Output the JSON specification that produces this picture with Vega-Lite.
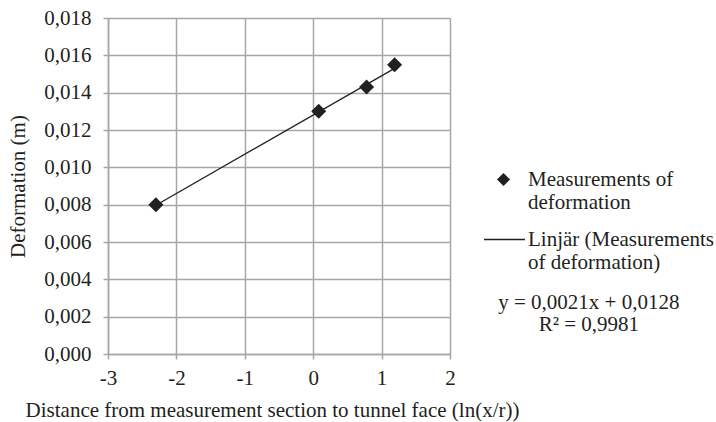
{
  "$schema": "https://vega.github.io/schema/vega-lite/v6.json",
  "width": 342,
  "height": 336,
  "autosize": {"type": "none"},
  "padding": {"left": 108, "top": 18, "right": 266, "bottom": 68},
  "background": "white",
  "config": {
    "view": {"stroke": null},
    "font": "Liberation Serif",
    "axis": {
      "labelFont": "Liberation Serif",
      "titleFont": "Liberation Serif",
      "labelFontSize": 21,
      "titleFontSize": 21,
      "labelColor": "#231f20",
      "titleColor": "#231f20",
      "titleFontWeight": "normal",
      "gridColor": "#a6a6a6",
      "gridWidth": 1.5,
      "domainColor": "#a6a6a6",
      "domainWidth": 1.5,
      "tickColor": "#a6a6a6",
      "tickWidth": 1.5,
      "tickSize": 5,
      "labelOverlap": false
    },
    "legend": {
      "labelFont": "Liberation Serif",
      "labelFontSize": 21,
      "labelColor": "#231f20",
      "labelLimit": 400
    }
  },
  "datasets": {
    "points": [
      {"x": -2.3, "y": 0.0080, "series": "Measurements of deformation"},
      {"x": 0.08, "y": 0.0130, "series": "Measurements of deformation"},
      {"x": 0.78, "y": 0.0143, "series": "Measurements of deformation"},
      {"x": 1.19, "y": 0.0155, "series": "Measurements of deformation"}
    ],
    "trend": [
      {"x": -2.3, "y": 0.00797, "series": "Linjär (Measurements of deformation)"},
      {"x": 1.19, "y": 0.01530, "series": "Linjär (Measurements of deformation)"}
    ],
    "equation": [
      {"text": "y = 0,0021x + 0,0128"}
    ]
  },
  "layer": [
    {
      "data": {"name": "trend"},
      "mark": {"type": "line", "strokeWidth": 1.3},
      "encoding": {
        "x": {
          "field": "x",
          "type": "quantitative",
          "scale": {"domain": [-3, 2], "nice": false, "zero": false},
          "axis": {
            "values": [-3, -2, -1, 0, 1, 2],
            "labelExpr": "'' + datum.value",
            "labelPadding": 8,
            "title": "Distance from measurement section to tunnel face (ln(x/r))",
            "titleX": 164,
            "titlePadding": 11,
            "labelFlush": false,
            "labelOverlap": false
          }
        },
        "y": {
          "field": "y",
          "type": "quantitative",
          "scale": {"domain": [0, 0.018], "nice": false, "zero": false},
          "axis": {
            "values": [0, 0.002, 0.004, 0.006, 0.008, 0.01, 0.012, 0.014, 0.016, 0.018],
            "labelExpr": "replace(format(datum.value, '.3f'), '.', ',')",
            "labelPadding": 12,
            "title": "Deformation (m)",
            "titlePadding": 15,
            "labelFlush": false,
            "labelOverlap": false
          }
        },
        "color": {
          "field": "series",
          "type": "nominal",
          "scale": {"range": ["#231f20"]},
          "legend": {
            "title": null,
            "orient": "none",
            "legendX": 375,
            "legendY": 200,
            "symbolType": "stroke",
            "symbolSize": 1681,
            "symbolStrokeWidth": 1.3,
            "labelOffset": 2,
            "labelExpr": "['Linjär (Measurements', 'of deformation)']"
          }
        }
      }
    },
    {
      "data": {"name": "points"},
      "mark": {"type": "point", "filled": true, "color": "#231f20", "opacity": 1, "size": 225},
      "encoding": {
        "x": {
          "field": "x",
          "type": "quantitative",
          "axis": {
            "values": [-3, -2, -1, 0, 1, 2],
            "labelExpr": "'' + datum.value",
            "labelPadding": 8,
            "title": "Distance from measurement section to tunnel face (ln(x/r))",
            "titleX": 164,
            "titlePadding": 11,
            "labelFlush": false,
            "labelOverlap": false
          }
        },
        "y": {
          "field": "y",
          "type": "quantitative",
          "axis": {
            "values": [0, 0.002, 0.004, 0.006, 0.008, 0.01, 0.012, 0.014, 0.016, 0.018],
            "labelExpr": "replace(format(datum.value, '.3f'), '.', ',')",
            "labelPadding": 12,
            "title": "Deformation (m)",
            "titlePadding": 15,
            "labelFlush": false,
            "labelOverlap": false
          }
        },
        "shape": {
          "field": "series",
          "type": "nominal",
          "scale": {"range": ["diamond"]},
          "legend": {
            "title": null,
            "orient": "none",
            "legendX": 385,
            "legendY": 151,
            "symbolSize": 170,
            "symbolFillColor": "#231f20",
            "symbolStrokeColor": "#231f20",
            "symbolOpacity": 1,
            "labelOffset": 14,
            "labelExpr": "['Measurements of', 'deformation']"
          }
        }
      }
    },
    {
      "data": {"name": "equation"},
      "mark": {"type": "text", "align": "center", "baseline": "alphabetic", "fontSize": 21, "font": "Liberation Serif", "color": "#231f20", "lineHeight": 22},
      "encoding": {
        "x": {
          "datum": 4.03,
          "type": "quantitative",
          "axis": {
            "values": [-3, -2, -1, 0, 1, 2],
            "labelExpr": "'' + datum.value",
            "labelPadding": 8,
            "title": "Distance from measurement section to tunnel face (ln(x/r))",
            "titleX": 164,
            "titlePadding": 11,
            "labelFlush": false,
            "labelOverlap": false
          }
        },
        "y": {
          "datum": 0.00241,
          "type": "quantitative",
          "axis": {
            "values": [0, 0.002, 0.004, 0.006, 0.008, 0.01, 0.012, 0.014, 0.016, 0.018],
            "labelExpr": "replace(format(datum.value, '.3f'), '.', ',')",
            "labelPadding": 12,
            "title": "Deformation (m)",
            "titlePadding": 15,
            "labelFlush": false,
            "labelOverlap": false
          }
        },
        "text": {"value": ["y = 0,0021x + 0,0128", "R² = 0,9981"]}
      }
    }
  ]
}
